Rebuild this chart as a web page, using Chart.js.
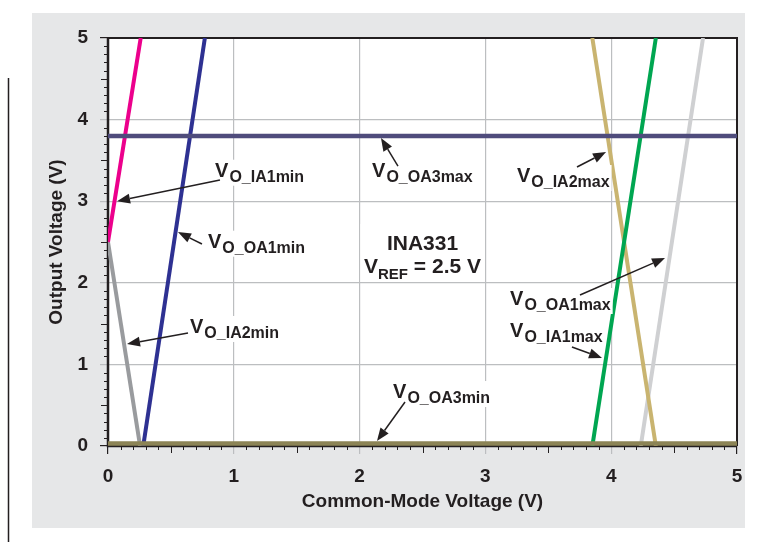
<!DOCTYPE html>
<html>
<head>
<meta charset="utf-8">
<script src="https://cdn.jsdelivr.net/npm/chart.js@4/dist/chart.umd.min.js"></script>
<style>
  html, body { margin: 0; background: #fff; }
</style>
</head>
<body>
<canvas id="chart" width="761" height="542"></canvas>
<script>
// each curve is a straight segment: x = common-mode voltage, y = output voltage
const ia1MinX = [0, 0.26];
const ia1MinY = [2.5, 5];
const oa1MinX = [0.28, 0.77];
const oa1MinY = [0, 5];
const ia2MinX = [0, 0.255];
const ia2MinY = [2.5, 0];
const oa3MaxX = [0, 5];
const oa3MaxY = [3.8, 3.8];
const oa3MinX = [0, 5];
const oa3MinY = [0.03, 0.03];
const ia2MaxX = [3.85, 4.355];
const ia2MaxY = [5, 0];
const ia1MaxX = [3.85, 4.355];
const ia1MaxY = [0, 5];
const oa1MaxX = [4.235, 4.73];
const oa1MaxY = [0, 5];

const xTicks = [0, 1, 2, 3, 4, 5];
const yTicks = [0, 1, 2, 3, 4, 5];

// callouts, in data units: text anchor and arrow tail -> head
const notes = [
  { sub: "O_IA1min", at: [0.851, 3.30], from: [0.890, 3.26], to: [0.072, 3.00] },
  { sub: "O_OA1min", at: [0.795, 2.43], from: [0.747, 2.475], to: [0.556, 2.622] },
  { sub: "O_OA3max", at: [2.099, 3.30], from: [2.305, 3.43], to: [2.170, 3.775] },
  { sub: "O_IA2max", at: [3.251, 3.235], from: [3.728, 3.419], to: [3.959, 3.603] },
  { sub: "O_OA1max", at: [3.196, 1.728], from: [3.752, 1.850], to: [4.428, 2.304] },
  { sub: "O_IA1max", at: [3.196, 1.336], from: [3.688, 1.213], to: [3.927, 1.078] },
  { sub: "O_IA2min", at: [0.652, 1.385], from: [0.636, 1.385], to: [0.151, 1.25] },
  { sub: "O_OA3min", at: [2.266, 0.588], from: [2.361, 0.539], to: [2.138, 0.061] },
];

const FONT = "'Liberation Sans', Arial, sans-serif";
const INK = "#231f20";

const pts = (xs, ys) => xs.map((x, i) => ({ x: x, y: ys[i] }));

const seg = (data, color, width) => ({
  data: data,
  showLine: true,
  borderColor: color,
  backgroundColor: color,
  borderWidth: width || 4,
  pointRadius: 0,
  fill: false,
});

const backdrop = {
  id: "backdrop",
  beforeDraw(chart) {
    const { ctx, chartArea: a } = chart;
    ctx.save();
    ctx.fillStyle = "#fff";
    ctx.fillRect(0, 0, chart.width, chart.height);
    ctx.fillStyle = "#e6e7e8";
    ctx.fillRect(32, 13, 713, 515);
    ctx.fillStyle = "#fff";
    ctx.fillRect(a.left, a.top, a.right - a.left, a.bottom - a.top);
    ctx.strokeStyle = "#231f20";
    ctx.lineWidth = 1.5;
    ctx.beginPath();
    ctx.moveTo(8.5, 78);
    ctx.lineTo(8.5, 542);
    ctx.stroke();
    ctx.restore();
  },
  beforeDatasetsDraw(chart) {
    const { ctx, chartArea: a, scales } = chart;
    ctx.save();
    // frame
    ctx.strokeStyle = INK;
    ctx.lineWidth = 2;
    ctx.beginPath();
    ctx.moveTo(a.left, a.top);
    ctx.lineTo(a.right, a.top);
    ctx.lineTo(a.right, a.bottom);
    ctx.stroke();
    ctx.lineWidth = 2.5;
    ctx.beginPath();
    ctx.moveTo(a.left, a.top);
    ctx.lineTo(a.left, a.bottom);
    ctx.lineTo(a.right, a.bottom);
    ctx.stroke();
    // minor ticks every 0.1, longer at the halves
    ctx.lineWidth = 1;
    for (let i = 1; i < 50; i++) {
      if (i % 10 === 0) continue;
      const len = i % 5 === 0 ? 7 : 4;
      const px = Math.round(scales.x.getPixelForValue(i / 10)) + 0.5;
      const py = Math.round(scales.y.getPixelForValue(i / 10)) + 0.5;
      ctx.beginPath();
      ctx.moveTo(px, a.bottom);
      ctx.lineTo(px, a.bottom + len);
      ctx.moveTo(a.left, py);
      ctx.lineTo(a.left - len, py);
      ctx.stroke();
    }
    ctx.restore();
  },
};

function arrow(ctx, x1, y1, x2, y2) {
  const ang = Math.atan2(y2 - y1, x2 - x1);
  const hl = 13, hw = 5;
  const bx = x2 - hl * Math.cos(ang);
  const by = y2 - hl * Math.sin(ang);
  ctx.beginPath();
  ctx.moveTo(x1, y1);
  ctx.lineTo(bx, by);
  ctx.stroke();
  ctx.beginPath();
  ctx.moveTo(x2, y2);
  ctx.lineTo(bx + hw * Math.sin(ang), by - hw * Math.cos(ang));
  ctx.lineTo(bx - hw * Math.sin(ang), by + hw * Math.cos(ang));
  ctx.closePath();
  ctx.fill();
}

function subText(ctx, main, sub, x, y, bg) {
  ctx.font = "bold 20px " + FONT;
  const w1 = ctx.measureText(main).width;
  ctx.font = "bold 16px " + FONT;
  const w2 = ctx.measureText(sub).width;
  if (bg) {
    ctx.fillStyle = "#fff";
    ctx.fillRect(x - 2, y - 17, w1 + w2 + 5, 26);
  }
  ctx.fillStyle = INK;
  ctx.font = "bold 20px " + FONT;
  ctx.fillText(main, x, y);
  ctx.font = "bold 16px " + FONT;
  ctx.fillText(sub, x + w1 + 1, y + 5);
  return w1 + w2 + 1;
}

const callouts = {
  id: "callouts",
  afterDatasetsDraw(chart) {
    const { ctx, scales } = chart;
    const X = (v) => scales.x.getPixelForValue(v);
    const Y = (v) => scales.y.getPixelForValue(v);
    ctx.save();
    ctx.textBaseline = "alphabetic";
    ctx.textAlign = "left";
    notes.forEach((n) => {
      subText(ctx, "V", n.sub, X(n.at[0]), Y(n.at[1]), true);
    });
    ctx.strokeStyle = INK;
    ctx.fillStyle = INK;
    ctx.lineWidth = 1.5;
    notes.forEach((n) => {
      arrow(ctx, X(n.from[0]), Y(n.from[1]), X(n.to[0]), Y(n.to[1]));
    });

    // device note in the middle
    const cx = X(2.5), cy = Y(2.5);
    ctx.fillStyle = "#fff";
    ctx.fillRect(cx - 62, cy - 18, 124, 58);
    ctx.fillStyle = INK;
    ctx.textAlign = "center";
    ctx.font = "bold 21px " + FONT;
    ctx.fillText("INA331", cx, cy + 8);
    ctx.textAlign = "left";
    ctx.font = "bold 21px " + FONT;
    const v = ctx.measureText("V").width;
    ctx.font = "bold 15px " + FONT;
    const r = ctx.measureText("REF").width;
    ctx.font = "bold 21px " + FONT;
    const e = ctx.measureText(" = 2.5 V").width;
    let x0 = cx - (v + r + e) / 2;
    const by = cy + 31;
    ctx.fillText("V", x0, by);
    ctx.font = "bold 15px " + FONT;
    ctx.fillText("REF", x0 + v, by + 6);
    ctx.font = "bold 21px " + FONT;
    ctx.fillText(" = 2.5 V", x0 + v + r, by);
    ctx.restore();
  },
};

const gridColor = (ctx) => {
  const v = ctx.tick && ctx.tick.value;
  return v === 0 || v === 5 ? INK : "#bcbec0";
};

new Chart(document.getElementById("chart"), {
  type: "scatter",
  data: {
    datasets: [
      seg(pts(oa3MaxX, oa3MaxY), "#4f4c7c", 4.5),
      seg(pts(oa3MinX, oa3MinY), "#8c8456", 4.5),
      seg(pts(ia1MinX, ia1MinY), "#ec008c"),
      seg(pts(oa1MinX, oa1MinY), "#2e3192"),
      seg(pts(ia2MinX, ia2MinY), "#999b9e"),
      seg(pts(ia1MaxX, ia1MaxY), "#00a651"),
      seg(pts(ia2MaxX, ia2MaxY), "#c9b470"),
      seg(pts(oa1MaxX, oa1MaxY), "#cfd0d2"),
    ],
  },
  options: {
    responsive: false,
    animation: false,
    layout: { padding: { left: 32, right: 24, top: 38, bottom: 28 } },
    plugins: {
      legend: { display: false },
      tooltip: { enabled: false },
    },
    scales: {
      x: {
        type: "linear",
        min: 0,
        max: 5,
        afterBuildTicks: (s) => { s.ticks = xTicks.map((v) => ({ value: v })); },
        afterFit: (s) => { s.height = 68; },
        border: { display: false },
        grid: { color: gridColor, tickColor: gridColor, tickLength: 8, lineWidth: 1.2 },
        ticks: {
          padding: 11,
          color: INK,
          font: { family: FONT, size: 19, weight: "bold" },
        },
        title: {
          display: true,
          text: "Common-Mode Voltage (V)",
          color: INK,
          padding: { top: 0, bottom: 1 },
          font: { family: FONT, size: 19, weight: "bold" },
        },
      },
      y: {
        type: "linear",
        min: 0,
        max: 5,
        afterBuildTicks: (s) => { s.ticks = yTicks.map((v) => ({ value: v })); },
        afterFit: (s) => { s.width = 76; },
        border: { display: false },
        grid: { color: gridColor, tickColor: gridColor, tickLength: 8, lineWidth: 1.2 },
        ticks: {
          padding: 12,
          color: INK,
          font: { family: FONT, size: 19, weight: "bold" },
        },
        title: {
          display: true,
          text: "Output Voltage (V)",
          color: INK,
          padding: { top: 13, bottom: 0 },
          font: { family: FONT, size: 19, weight: "bold" },
        },
      },
    },
  },
  plugins: [backdrop, callouts],
});
</script>
</body>
</html>
